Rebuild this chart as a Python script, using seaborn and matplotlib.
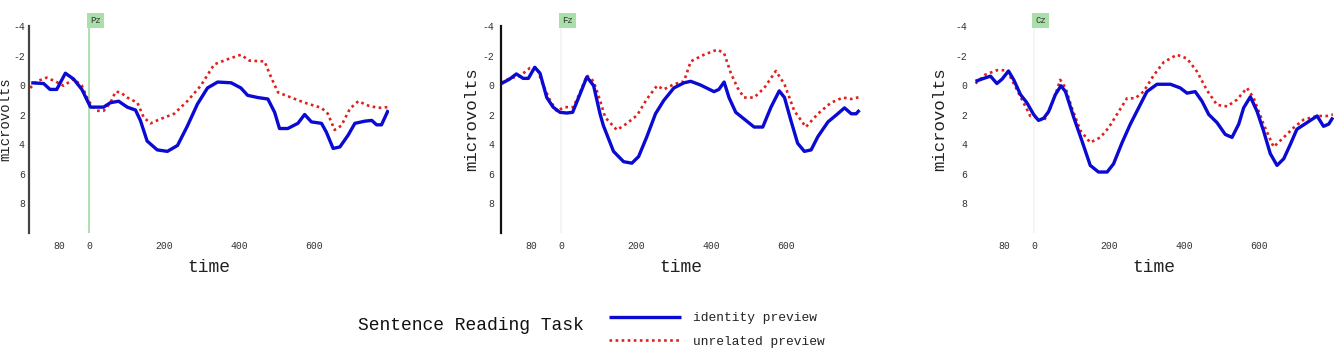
import matplotlib
matplotlib.use("Agg")
import matplotlib.pyplot as plt
import seaborn as sns
import pandas as pd
from matplotlib.lines import Line2D
import matplotlib.transforms as mtrans

electrodes = ["Pz", "Fz", "Cz"]
series_names = ["identity preview", "unrelated preview"]
x_ticks = [-80, 0, 200, 400, 600]
x_tick_labels = ["80", "0", "200", "400", "600"]
y_ticks = [-4, -2, 0, 2, 4, 6, 8]
y_tick_labels = ["-4", "-2", "0", "2", "4", "6", "8"]

# Pz
pz_ident_t = [-154, -121, -104, -86, -63, -41, -19, 4, 21, 39, 57, 79, 102, 124, 137, 155, 182, 209, 236, 262,
              289, 316, 343, 379, 405, 423, 450, 477, 495, 508, 530, 557, 575, 593, 620, 633, 651, 669, 691, 709,
              736, 754, 767, 780, 798]
pz_ident_v = [-0.15, -0.1, 0.3, 0.3, -0.8, -0.4, 0.3, 1.5, 1.5, 1.5, 1.2, 1.1, 1.5, 1.7, 2.4, 3.8, 4.4, 4.5, 4.1, 2.8,
              1.3, 0.2, -0.2, -0.15, 0.2, 0.7, 0.85, 0.95, 1.85, 2.95, 2.95, 2.6, 2.0, 2.5, 2.6, 3.2, 4.3, 4.2, 3.4, 2.6,
              2.45, 2.4, 2.7, 2.7, 1.7]
pz_unrel_t = [-157, -139, -113, -90, -68, -41, -19, -1, 21, 39, 57, 71, 84, 102, 129, 146, 164, 191, 227, 262,
              298, 334, 370, 405, 428, 468, 486, 504, 539, 575, 620, 637, 655, 673, 696, 718, 745, 771, 798]
pz_unrel_v = [0.2, -0.25, -0.5, -0.25, 0.05, -0.4, 0.05, 1.1, 1.75, 1.75, 1.2, 0.45, 0.5, 0.85, 1.2, 2.2, 2.6, 2.3, 1.95, 1.1,
              0.05, -1.4, -1.75, -2.05, -1.65, -1.6, -0.5, 0.5, 0.85, 1.2, 1.55, 1.95, 3.05, 2.75, 1.6, 1.1, 1.4, 1.55, 1.5]

# Fz
fz_ident_t = [-159, -137, -119, -101, -87, -70, -56, -38, -21, -3, 15, 31, 51, 69, 87, 104, 113, 140, 167, 189,
              207, 229, 252, 274, 301, 328, 346, 372, 408, 421, 435, 448, 466, 488, 515, 538, 560, 582, 596, 613,
              631, 649, 667, 685, 712, 738, 756, 774, 787, 796]
fz_ident_v = [-0.1, -0.4, -0.75, -0.45, -0.45, -1.2, -0.8, 0.85, 1.5, 1.85, 1.9, 1.85, 0.6, -0.55, 0.05, 1.95, 2.75, 4.5, 5.2, 5.3,
              4.85, 3.5, 1.95, 1.05, 0.2, -0.15, -0.25, 0.0, 0.45, 0.3, -0.2, 0.85, 1.85, 2.3, 2.85, 2.85, 1.5, 0.4, 0.85, 2.4,
              3.95, 4.5, 4.4, 3.5, 2.5, 1.95, 1.55, 1.95, 1.95, 1.7]
fz_unrel_t = [-159, -137, -110, -83, -65, -47, -29, -12, 11, 33, 51, 69, 87, 104, 118, 149, 176, 203, 229, 256,
              274, 301, 328, 346, 381, 417, 435, 453, 471, 488, 515, 542, 573, 596, 622, 653, 685, 720, 752, 774, 799]
fz_unrel_v = [-0.15, -0.45, -0.6, -1.15, -1.2, 0.05, 1.05, 1.75, 1.5, 1.5, 0.5, -0.65, -0.25, 1.05, 2.2, 3.05, 2.6, 2.05, 0.95, 0.05,
              0.3, -0.05, -0.25, -1.6, -2.05, -2.4, -2.15, -0.8, 0.2, 0.85, 0.85, 0.2, -0.95, -0.05, 1.75, 2.85, 1.95, 1.2, 0.85, 0.95, 0.8]

# Cz
cz_ident_t = [-156, -134, -116, -99, -85, -68, -54, -36, -19, -1, 12, 26, 39, 57, 72, 84, 106, 128, 150, 172,
              195, 212, 235, 257, 279, 301, 328, 364, 390, 408, 430, 448, 466, 488, 510, 528, 546, 559, 577, 595,
              612, 630, 648, 666, 684, 701, 728, 755, 772, 786, 797]
cz_ident_v = [-0.25, -0.45, -0.6, -0.1, -0.4, -0.95, -0.35, 0.65, 1.2, 2.0, 2.4, 2.25, 1.8, 0.65, 0.05, 0.45, 2.2, 3.8, 5.45, 5.9,
              5.9, 5.35, 3.9, 2.65, 1.55, 0.45, -0.05, -0.05, 0.2, 0.55, 0.45, 1.1, 2.0, 2.55, 3.35, 3.55, 2.65, 1.55, 0.8, 1.8,
              3.1, 4.65, 5.45, 5.0, 4.0, 3.0, 2.55, 2.1, 2.8, 2.65, 2.2]
cz_unrel_t = [-156, -130, -99, -72, -50, -28, -10, 8, 26, 44, 61, 70, 84, 101, 124, 150, 177, 199, 221, 248,
              270, 292, 319, 346, 381, 408, 435, 461, 488, 515, 541, 568, 586, 612, 639, 666, 692, 719, 755, 781, 797]
cz_unrel_v = [-0.1, -0.7, -1.0, -1.0, 0.1, 1.2, 2.1, 2.2, 2.45, 1.55, 0.35, -0.35, 0.2, 1.55, 3.1, 3.9, 3.55, 2.9, 2.0, 0.9,
              0.9, 0.45, -0.65, -1.55, -2.05, -1.8, -0.9, 0.35, 1.35, 1.45, 1.0, 0.2, 0.9, 2.65, 4.2, 3.55, 2.9, 2.35, 2.1, 2.1, 2.0]

panels = [
    (pz_ident_t, pz_ident_v, pz_unrel_t, pz_unrel_v),
    (fz_ident_t, fz_ident_v, fz_unrel_t, fz_unrel_v),
    (cz_ident_t, cz_ident_v, cz_unrel_t, cz_unrel_v),
]

sns.set_style("white")
plt.rcParams["font.family"] = ["Liberation Mono", "DejaVu Sans Mono"]

W, H = 1339, 353
fig = plt.figure(figsize=(W / 100, H / 100), dpi=100)

BLUE = "#0a0ad2"
RED = "#e0201c"
blue_kw = dict(color=BLUE, lw=2.4, solid_capstyle="butt")
red_kw = dict(color=RED, lw=1.9, linestyle=(0, (1, 1.3)))

lefts = [29, 501, 974]
ax_w = 360
ax_bottom_px = 232.5
ax_h = 206.5
spine_cfg = [("#444444", True), ("#111111", True), (None, False)]
vline_col = ["#a8dca8", "#f3f3f3", "#f5f5f5"]
ylabel_x = [-0.046, -0.061, -0.075]
ylabel_fs = [10, 12.5, 12.5]
ytick_pad = [3, 5, 5]

for i, (it, iv, ut, uv) in enumerate(panels):
    ax = fig.add_axes([lefts[i] / W, (H - ax_bottom_px) / H, ax_w / W, ax_h / H])
    ax.axvline(0, color=vline_col[i], lw=1.3, zorder=0)
    d1 = pd.DataFrame({"time": it, "uV": iv})
    d2 = pd.DataFrame({"time": ut, "uV": uv})
    sns.lineplot(data=d2, x="time", y="uV", ax=ax, estimator=None, **red_kw)
    sns.lineplot(data=d1, x="time", y="uV", ax=ax, estimator=None, **blue_kw)
    ax.set_xlim(-160, 800)
    ax.set_ylim(10, -4)
    ax.set_xticks(x_ticks)
    ax.set_xticklabels(x_tick_labels)
    ax.set_yticks(y_ticks)
    ax.set_yticklabels(y_tick_labels)
    for s in ["top", "right", "bottom"]:
        ax.spines[s].set_visible(False)
    col, show = spine_cfg[i]
    if show:
        ax.spines["left"].set_color(col)
        ax.spines["left"].set_linewidth(1.6)
    else:
        ax.spines["left"].set_visible(False)
    ax.tick_params(axis="y", direction="in", length=3, width=1, colors="#333333",
                   labelsize=7, pad=ytick_pad[i])
    ax.tick_params(axis="x", direction="inout", length=4, width=1, colors="#333333",
                   labelsize=7, pad=4)
    ax.set_xlabel("time", fontsize=13, color="#222222", labelpad=6)
    ax.set_ylabel("microvolts", fontsize=ylabel_fs[i], color="#222222")
    ax.yaxis.set_label_coords(ylabel_x[i], 0.55)
    trans = mtrans.blended_transform_factory(ax.transData, ax.transAxes)
    ax.text(3, 1.025, electrodes[i], transform=trans, fontsize=6.5, color="#333333",
            ha="left", va="center",
            bbox=dict(boxstyle="square,pad=0.35", fc="#a9dfa9", ec="none"))
    ax.patch.set_alpha(0)

fig.text(358 / W, (H - 326) / H, "Sentence Reading Task", fontsize=13,
         ha="left", va="center", color="#111111")

handles = [Line2D([], [], **blue_kw), Line2D([], [], **red_kw)]
fig.legend(handles, series_names, loc="center left",
           bbox_to_anchor=(609 / W, (H - 330) / H), frameon=False,
           fontsize=9.3, handlelength=5.6, handletextpad=0.9, labelspacing=0.9,
           borderpad=0, borderaxespad=0, labelcolor="#222222")

fig.savefig("out.png", dpi=100)
